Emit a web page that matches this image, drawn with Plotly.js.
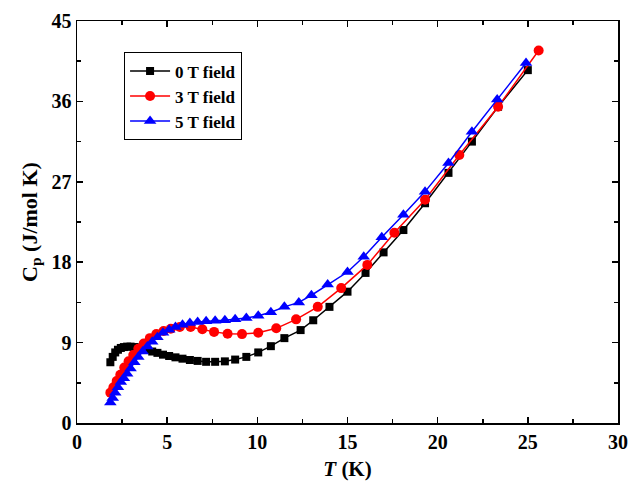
<!DOCTYPE html>
<html>
<head>
<meta charset="utf-8">
<script src="https://cdn.plot.ly/plotly-3.0.1.min.js"></script>
<style>html,body{margin:0;padding:0;background:#fff;}#chart{width:632px;height:490px;}</style>
</head>
<body>
<div id="chart"></div>
<script>
// 0 T field
var T0 = [1.85,1.98,2.12,2.27,2.43,2.60,2.78,2.97,3.18,3.40,3.64,3.90,4.17,4.46,4.77,5.11,5.46,5.85,6.26,6.69,7.16,7.66,8.20,8.77,9.39,10.05,10.75,11.5,12.4,13.1,14.0,15.0,16.0,17.0,18.1,19.3,20.6,21.9,23.35,25.0];
var C0 = [6.8,7.4,7.9,8.2,8.4,8.5,8.55,8.55,8.5,8.45,8.35,8.2,8.0,7.85,7.65,7.5,7.35,7.2,7.05,6.95,6.85,6.85,6.9,7.1,7.4,7.9,8.6,9.5,10.4,11.5,13.0,14.7,16.8,19.1,21.6,24.6,28.0,31.5,35.4,39.5];
// 3 T field
var T3 = [1.85,2.02,2.2,2.4,2.62,2.86,3.12,3.4,3.7,4.04,4.4,4.8,5.2,5.7,6.3,6.95,7.6,8.35,9.15,10.05,11.05,12.15,13.35,14.65,16.1,17.6,19.3,21.2,23.35,25.6];
var C3 = [3.4,4.0,4.7,5.4,6.2,6.9,7.6,8.3,8.9,9.5,9.95,10.3,10.55,10.75,10.75,10.5,10.2,10.0,9.95,10.1,10.6,11.6,13.0,15.1,17.7,21.3,25.0,30.0,35.4,41.7];
// 5 T field
var T5 = [1.85,1.98,2.12,2.27,2.43,2.60,2.78,2.97,3.18,3.40,3.64,3.90,4.17,4.46,4.77,5.11,5.46,5.85,6.26,6.69,7.16,7.66,8.20,8.77,9.39,10.05,10.75,11.5,12.3,13.0,13.9,15.0,15.9,16.9,18.1,19.3,20.6,21.9,23.3,24.9];
var C5 = [2.3,2.8,3.4,4.0,4.6,5.0,5.5,6.1,6.8,7.4,8.0,8.55,9.1,9.6,10.1,10.45,10.75,11.0,11.2,11.3,11.4,11.45,11.5,11.6,11.75,12.0,12.4,13.0,13.5,14.3,15.5,16.9,18.6,20.8,23.3,25.9,29.1,32.6,36.2,40.3];

var names = ['0 T field','3 T field','5 T field'];
var xTicks = [0,5,10,15,20,25,30];
var yTicks = [0,9,18,27,36,45];

var fontFam = '"Liberation Serif", "Times New Roman", serif';

var traces = [
  {x:T0, y:C0, name:names[0], mode:'lines+markers', type:'scatter',
   line:{color:'#000000', width:1.5}, marker:{symbol:'square', size:8, color:'#000000'}},
  {x:T3, y:C3, name:names[1], mode:'lines+markers', type:'scatter',
   line:{color:'#ff0000', width:1.5}, marker:{symbol:'circle', size:10, color:'#ff0000'}},
  {x:T5, y:C5, name:names[2], mode:'lines+markers', type:'scatter',
   line:{color:'#0000ff', width:1.5}, marker:{symbol:'triangle-up', size:11, color:'#0000ff'}}
];

var axisCommon = {
  showline:true, linecolor:'#000', linewidth:1.5, mirror:'ticks',
  ticks:'inside', ticklen:6, tickwidth:1.5, tickcolor:'#000',
  showgrid:false, zeroline:false,
  tickfont:{family:fontFam, size:20, color:'#000', weight:'bold'},
  minor:{ticks:'inside', ticklen:4, tickwidth:1.5, tickcolor:'#000', showgrid:false}
};

var layout = {
  width:632, height:490,
  margin:{l:77, r:14, t:21, b:67},
  paper_bgcolor:'#fff', plot_bgcolor:'#fff',
  showlegend:true,
  xaxis: Object.assign({}, axisCommon, {
    range:[0,30], tickvals:xTicks, ticktext:xTicks.map(String),
    minor:Object.assign({}, axisCommon.minor, {dtick:2.5, tick0:0}),
    title:{text:'<i>T</i> (K)', font:{family:fontFam, size:21, color:'#000', weight:'bold'}, standoff:10}
  }),
  yaxis: Object.assign({}, axisCommon, {
    range:[0,45], tickvals:yTicks, ticktext:yTicks.map(String),
    minor:Object.assign({}, axisCommon.minor, {dtick:4.5, tick0:0}),
    title:{text:'C<sub>p</sub> (J/mol K)', font:{family:fontFam, size:22, color:'#000', weight:'bold'}, standoff:8}
  }),
  legend:{
    x:0.087, y:0.922, xanchor:'left', yanchor:'top',
    bordercolor:'#000', borderwidth:1, bgcolor:'#fff',
    font:{family:fontFam, size:17, color:'#000', weight:'bold'},
    tracegroupgap:0, itemwidth:40
  }
};

Plotly.newPlot('chart', traces, layout, {displayModeBar:false, staticPlot:true});
</script>
</body>
</html>
